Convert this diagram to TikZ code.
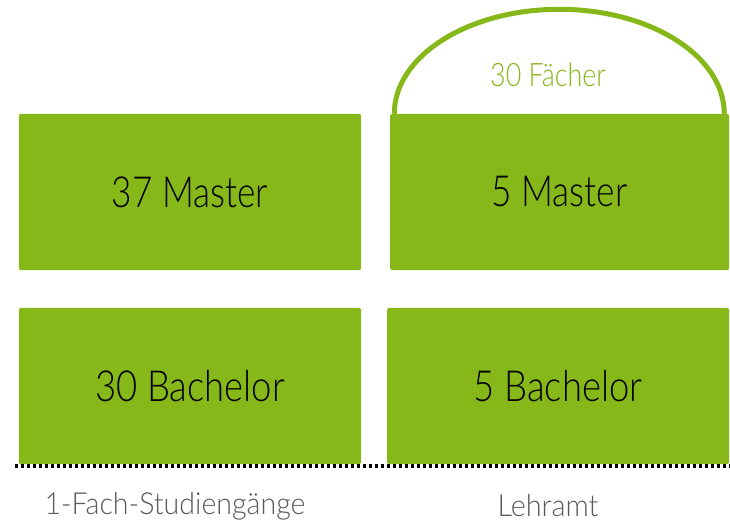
\documentclass[tikz,border=0pt]{standalone}
\usepackage{fontspec}
\setmainfont{Lato Light}
\usepackage{tikz}
\definecolor{uniGreen}{RGB}{134,184,26}
\definecolor{labelGray}{RGB}{89,89,89}
\newcommand{\schmal}[2]{\scalebox{#1}[1]{#2}}

\begin{document}
\begin{tikzpicture}[x=1bp,y=-1bp,
		box/.style={fill=uniGreen, rounded corners=1.5bp, minimum height=156bp, inner sep=0pt, font=\fontsize{43}{46}\selectfont},
		label/.style={text=labelGray, font=\fontsize{30.5}{33}\selectfont}]
			\useasboundingbox (0,0) rectangle (730,527);
			\node[box, minimum width=342bp] (mEin) at (190,192) {\schmal{0.82}{37 Master}};
			\node[box, minimum width=339bp] (mLa) at (559.5,192) {\schmal{0.82}{5 Master}};
			\node[box, minimum width=342bp] (bEin) at (190,386) {\schmal{0.85}{30 Bachelor}};
			\node[box, minimum width=342bp] (bLa) at (558,386) {\schmal{0.85}{5 Bachelor}};
			\draw[uniGreen, line width=5bp] ([xshift=4.5bp]mLa.north west) arc[start angle=180, end angle=0, x radius=165bp, y radius=104.5bp];
			\node[text=uniGreen, font=\fontsize{32.5}{35}\selectfont] (faecher) at (548,75) {\schmal{0.83}{30 Fächer}};
			\coordinate (linieL) at (15,466);
			\coordinate (linieR) at (730,466);
			\draw[line width=3.5bp, dash pattern=on 3bp off 3bp] (linieL) -- (linieR);
			\node[label] (einfach) at (175,506) {\schmal{0.94}{1-Fach-Studiengänge}};
			\node[label] (lehramt) at (548,506) {\schmal{0.95}{Lehramt}};
		\end{tikzpicture}
\end{document}
